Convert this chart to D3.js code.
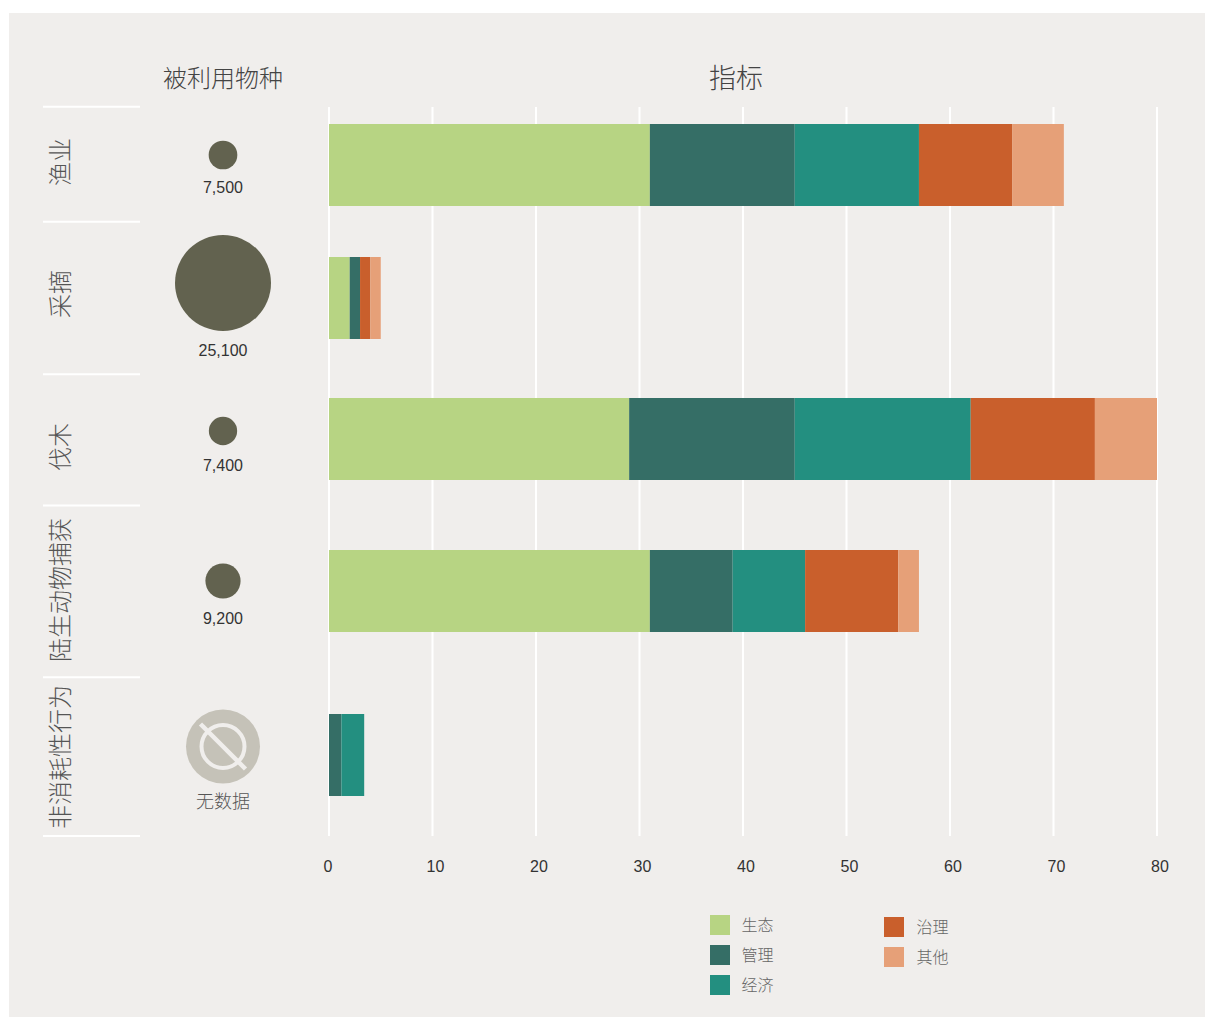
<!DOCTYPE html>
<html>
<head>
<meta charset="utf-8">
<script src="https://cdn.jsdelivr.net/npm/d3@7"></script>
<style>
    html, body { margin: 0; padding: 0; background: #fff; }
    svg { display: block; }
    .cjk { font-family: "Noto Sans CJK SC", sans-serif; font-weight: 300; }
    .num { font-family: "Liberation Sans", Arial, sans-serif; font-size: 16px; fill: #333; }
</style>
</head>
<body>
<div id="chart"></div>
<script>
// Data
const categories = ['渔业', '采摘', '伐木', '陆生动物捕获', '非消耗性行为'];
const seriesNames = ['生态', '管理', '经济', '治理', '其他'];
const ecology = [31, 2, 29, 31, 0];
const management = [14, 1, 16, 8, 1.2];
const economy = [12, 0, 17, 7, 2.2];
const governance = [9, 1, 12, 9, 0];
const other = [5, 1, 6, 2, 0];
const species = [7500, 25100, 7400, 9200, null];
const speciesLabels = ['7,500', '25,100', '7,400', '9,200', '无数据'];
const xTicks = [0, 10, 20, 30, 40, 50, 60, 70, 80];

const colors = ['#b7d483', '#356e66', '#238f80', '#c95f2c', '#e6a078'];
const panelColor = '#f0eeec';

const W = 1205, H = 1017;

const svg = d3.select('#chart').append('svg')
    .attr('width', W)
    .attr('height', H);

// Panel
svg.append('rect')
    .attr('x', 9).attr('y', 13)
    .attr('width', W - 9).attr('height', H - 13)
    .attr('fill', panelColor);

// Scales
const xScale = d3.scaleLinear().domain([0, 80]).range([329, 1157]);
const barTop = d3.scaleOrdinal().domain(categories).range([124, 257, 398, 550, 714]);
const circleY = d3.scaleOrdinal().domain(categories).range([155, 283, 431, 581, 746.5]);
const labelY = d3.scaleOrdinal().domain(categories).range([193, 356, 471, 624, 808]);
const rowLabelY = d3.scaleOrdinal().domain(categories).range([162, 294, 447, 590, 757]);
const colorScale = d3.scaleOrdinal().domain(seriesNames).range(colors);
const rScale = d3.scaleLinear().domain([0, 25100]).range([0, 48]);
const barHeight = 82;
const speciesX = 223;

// Headers
svg.append('text').attr('class', 'cjk')
    .attr('x', speciesX).attr('y', 87)
    .attr('text-anchor', 'middle')
    .attr('font-size', 24).attr('fill', '#444')
    .text('被利用物种');

svg.append('text').attr('class', 'cjk')
    .attr('x', 736).attr('y', 88)
    .attr('text-anchor', 'middle')
    .attr('font-size', 27).attr('fill', '#444')
    .text('指标');

// Grid lines
svg.append('g')
    .attr('transform', 'translate(0,107)')
    .call(d3.axisBottom(xScale).tickValues(xTicks).tickSize(729).tickFormat('').offset(0))
    .call(g => g.select('.domain').remove())
    .call(g => g.selectAll('.tick line').attr('stroke', '#fff').attr('stroke-width', 2));

// Tick labels sit a little right of their grid lines, the 0 a little left
svg.append('g')
    .attr('transform', 'translate(3,861)')
    .call(d3.axisBottom(xScale).tickValues(xTicks).tickSize(0).tickPadding(0).offset(0))
    .call(g => g.select('.domain').remove())
    .call(g => g.selectAll('text')
        .attr('class', 'num')
        .attr('dy', '0.71em')
        .attr('y', 0)
        .attr('dx', d => d === 0 ? -4 : 0));

// Row separators
const separators = [106.7, 221.7, 374.3, 505.5, 677.3, 836];
svg.append('g').selectAll('line')
    .data(separators)
    .enter()
    .append('line')
    .attr('x1', 43).attr('x2', 140)
    .attr('y1', d => d).attr('y2', d => d)
    .attr('stroke', '#fff')
    .attr('stroke-width', 2);

// Row labels
svg.append('g').selectAll('text')
    .data(categories)
    .enter()
    .append('text')
    .attr('class', 'cjk')
    .attr('transform', d => `translate(69,${rowLabelY(d)}) rotate(-90)`)
    .attr('text-anchor', 'middle')
    .attr('font-size', 24)
    .attr('fill', '#555')
    .text(d => d);

// Stacked bars
const table = categories.map((c, i) => ({
    category: c,
    '生态': ecology[i],
    '管理': management[i],
    '经济': economy[i],
    '治理': governance[i],
    '其他': other[i]
}));
const stacked = d3.stack().keys(seriesNames)(table);

svg.append('g').selectAll('g')
    .data(stacked)
    .enter()
    .append('g')
    .attr('fill', d => colorScale(d.key))
    .selectAll('rect')
    .data(d => d)
    .enter()
    .append('rect')
    .attr('x', d => xScale(d[0]))
    .attr('y', d => barTop(d.data.category))
    .attr('width', d => xScale(d[1]) - xScale(d[0]))
    .attr('height', barHeight);

// Species circles
svg.append('g').selectAll('circle')
    .data(categories.filter((c, i) => species[i] !== null))
    .enter()
    .append('circle')
    .attr('cx', speciesX)
    .attr('cy', d => circleY(d))
    .attr('r', d => rScale(species[categories.indexOf(d)]))
    .attr('fill', '#62624f');

// No data icon
categories.forEach((c, i) => {
    if (species[i] !== null) return;
    const icon = svg.append('g')
        .attr('transform', `translate(${speciesX},${circleY(c)})`);
    icon.append('circle').attr('r', 37).attr('fill', '#c5c2b8');
    icon.append('circle').attr('r', 21.5)
        .attr('fill', 'none')
        .attr('stroke', panelColor)
        .attr('stroke-width', 4);
    icon.append('line')
        .attr('x1', -22.5).attr('y1', -22.5)
        .attr('x2', 22.5).attr('y2', 22.5)
        .attr('stroke', panelColor)
        .attr('stroke-width', 4.5);
});

// Species labels
svg.append('g').selectAll('text')
    .data(categories)
    .enter()
    .append('text')
    .attr('class', (d, i) => species[i] === null ? 'cjk' : 'num')
    .attr('x', speciesX)
    .attr('y', d => labelY(d))
    .attr('text-anchor', 'middle')
    .attr('font-size', (d, i) => species[i] === null ? 18 : null)
    .attr('fill', (d, i) => species[i] === null ? '#555' : null)
    .text((d, i) => speciesLabels[i]);

// Legend
const legendX = d3.scaleOrdinal().domain(seriesNames).range([710, 710, 710, 884, 884]);
const legendY = d3.scaleOrdinal().domain(seriesNames).range([915, 945, 975, 917, 947]);
const legend = svg.append('g').selectAll('g')
    .data(seriesNames)
    .enter()
    .append('g')
    .attr('transform', d => `translate(${legendX(d)},${legendY(d)})`);

legend.append('rect')
    .attr('width', 20)
    .attr('height', 20)
    .attr('fill', d => colorScale(d));

legend.append('text')
    .attr('class', 'cjk')
    .attr('x', (d, i) => i < 3 ? 31.5 : 32.5)
    .attr('y', 15.5)
    .attr('font-size', 16)
    .attr('fill', '#666')
    .text(d => d);
</script>
</body>
</html>
